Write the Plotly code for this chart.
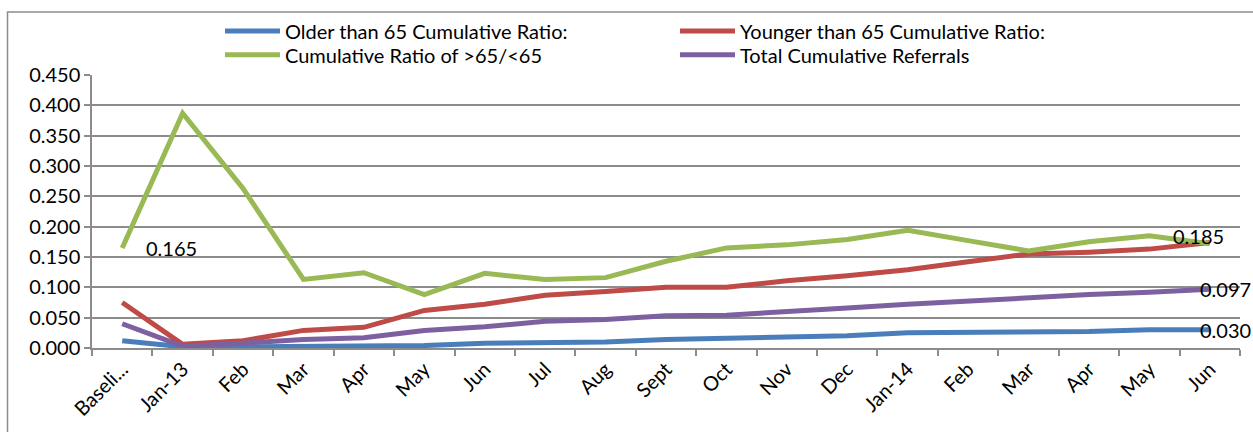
import plotly.graph_objects as go

categories = ["Baseli...", "Jan-13", "Feb", "Mar", "Apr", "May", "Jun", "Jul", "Aug",
              "Sept", "Oct", "Nov", "Dec", "Jan-14", "Feb", "Mar", "Apr", "May", "Jun"]

older = [0.012, 0.002, 0.002, 0.003, 0.003, 0.004, 0.008, 0.009, 0.010, 0.014,
         0.016, 0.018, 0.020, 0.025, 0.025, 0.025, 0.027, 0.030, 0.030]
younger = [0.075, 0.006, 0.012, 0.029, 0.034, 0.062, 0.072, 0.087, 0.093, 0.100,
           0.100, 0.111, 0.119, 0.129, 0.142, 0.155, 0.158, 0.163, 0.174]
ratio = [0.165, 0.387, 0.263, 0.113, 0.124, 0.088, 0.123, 0.113, 0.116, 0.143,
         0.165, 0.170, 0.179, 0.194, 0.177, 0.160, 0.175, 0.185, 0.172]
total = [0.040, 0.003, 0.008, 0.014, 0.017, 0.029, 0.035, 0.044, 0.047, 0.053,
         0.054, 0.061, 0.066, 0.072, 0.078, 0.084, 0.088, 0.092, 0.097]

series_names = ["Older than 65 Cumulative Ratio:", "Younger than 65 Cumulative Ratio:",
                "Cumulative Ratio of >65/<65", "Total Cumulative Referrals"]
series_colors = ["#4A7EBB", "#BE4B48", "#98B954", "#7D60A0"]
legend_rows = ["legend", "legend", "legend2", "legend2"]

x = list(range(len(categories)))
FONT = "Lato, Calibri, Carlito, sans-serif"
FS = 20

fig = go.Figure()
for name, vals, col, lg in zip(series_names, [older, younger, ratio, total], series_colors, legend_rows):
    fig.add_trace(go.Scatter(x=x, y=vals, mode="lines", name=name, legend=lg,
                             line=dict(color=col, width=5)))

# data labels: (series values, index, xanchor, xshift, yshift)
labels = [(ratio, 0, "left", 22, 0), (ratio, 17, "left", 22, 0),
          (total, 18, "left", -12, 0), (older, 18, "left", -12, 0)]
for vals, i, xa, xs, ys in labels:
    fig.add_annotation(x=x[i], y=vals[i], text=f"{vals[i]:.3f}", showarrow=False,
                       xanchor=xa, yanchor="middle", xshift=xs, yshift=ys,
                       font=dict(family=FONT, size=FS, color="black"))

W, H = 1253, 432
L, R, T, B = 92, 13, 73, 84
pw, ph = W - L - R, H - T - B
def px(xp):
    return (xp - L) / pw
def py(yp):
    return (H - B - yp) / ph

fig.add_shape(type="rect", xref="paper", yref="paper",
              x0=px(7.5), x1=px(1270), y0=py(9.5), y1=py(445),
              line=dict(color="#8C8C8C", width=1.5), fillcolor="rgba(0,0,0,0)", layer="below")

legend_common = dict(orientation="h", xanchor="left", yanchor="top",
                     entrywidth=385, entrywidthmode="pixels", font=dict(size=FS),
                     itemwidth=55, tracegroupgap=0, bgcolor="rgba(0,0,0,0)")

fig.update_layout(
    width=W, height=H,
    margin=dict(l=L, r=R, t=T, b=B),
    paper_bgcolor="white", plot_bgcolor="white",
    font=dict(family=FONT, size=FS, color="black"),
    showlegend=True,
    legend=dict(x=px(220), y=py(9), **legend_common),
    legend2=dict(x=px(220), y=py(33), **legend_common),
    xaxis=dict(range=[-0.5, 18.5], tickmode="array", tickvals=x, ticktext=categories,
               tickangle=-45, ticks="", showgrid=False, zeroline=False,
               showline=True, linecolor="#8C8C8C", linewidth=1.5,
               minor=dict(tick0=-0.5, dtick=1, ticks="outside", ticklen=6,
                          tickcolor="#8C8C8C", tickwidth=1.5, showgrid=False),
               tickfont=dict(size=FS)),
    yaxis=dict(range=[0, 0.45], dtick=0.05, tickformat=".3f",
               showgrid=True, gridcolor="#8C8C8C", gridwidth=1.5,
               zeroline=False, showline=True, linecolor="#8C8C8C", linewidth=1.5,
               ticks="outside", ticklen=6, tickcolor="#8C8C8C", tickwidth=1.5,
               tickfont=dict(size=FS)),
)

fig.write_html("out.html")
